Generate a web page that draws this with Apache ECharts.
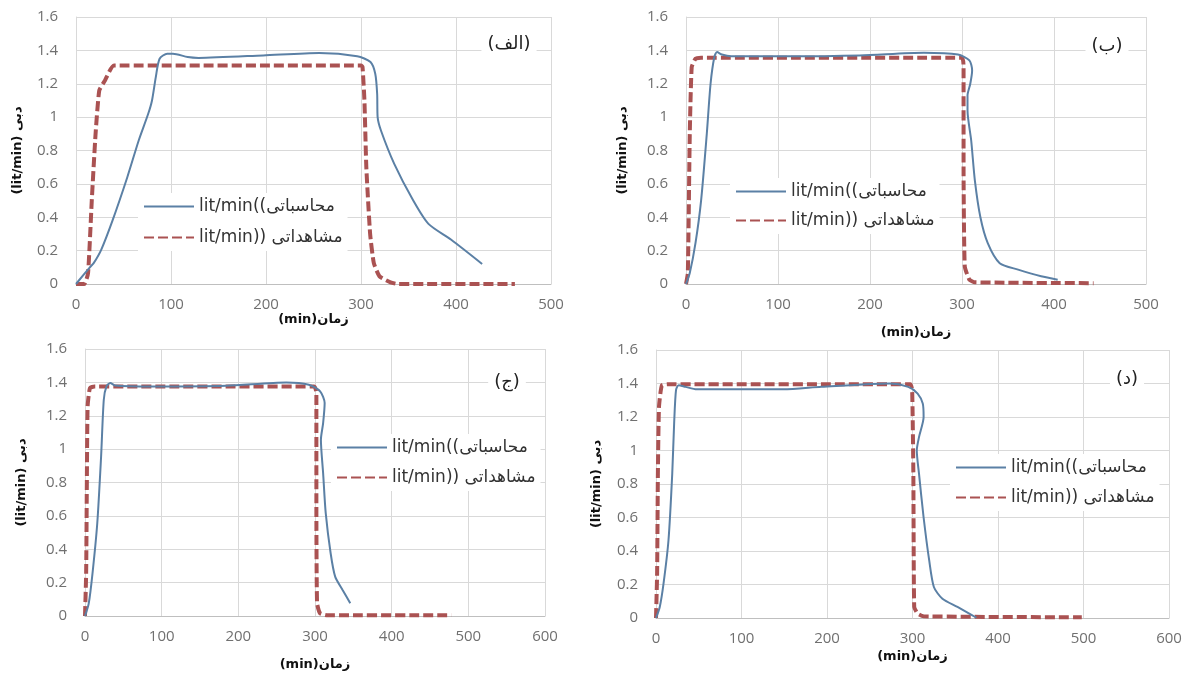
<!DOCTYPE html>
<html>
<head>
<meta charset="utf-8">
<script src="https://cdn.jsdelivr.net/npm/echarts@6/dist/echarts.min.js"></script>
<style>html,body{margin:0;padding:0;background:#fff}#c{width:1187px;height:677px}</style>
</head>
<body>
<div id="c"></div>
<script>
// ---- Data ----
const nameCalc = 'lit/min((محاسباتی';
const nameObs = 'lit/min)) مشاهداتی';
const panelLabels = ['(الف)', '(ب)', '(ج)', '(د)'];
const xTitle = '(min)زمان';
const yTitle = '(lit/min) دبی';
const xMaxA = 500, xMaxB = 500, xMaxC = 600, xMaxD = 600;

const calcA = [[0,0],[14.6,0.1],[18.6,0.125],[26.5,0.205],[38.4,0.38],[54,0.64],[66,0.86],[76,1.02],[80,1.1],[84,1.24],[88,1.35],[96,1.38],[102,1.38],[117.6,1.36],[129,1.355],[197,1.37],[256,1.385],[296,1.365],[310,1.33],[315,1.26],[317,1.14],[317.5,1.0],[321,0.92],[335,0.72],[355,0.5],[371,0.36],[395,0.265],[427.5,0.12]];
const obsA = [[0,0],[8.7,0],[12.7,0.066],[16.6,0.5],[20.6,0.9],[24.5,1.16],[30.5,1.22],[40,1.31],[300,1.31],[301.6,1.3],[303.6,1.1],[305.6,0.7],[309.6,0.3],[313.5,0.125],[319.5,0.046],[331,0.01],[339,0],[462,0]];

const calcB = [[0,0],[4.1,0.066],[10.3,0.245],[16.4,0.5],[22.6,0.9],[26.7,1.2],[30.8,1.36],[33.7,1.39],[39,1.375],[49,1.365],[107,1.365],[189,1.37],[258.6,1.386],[295.6,1.375],[308,1.34],[311,1.28],[309,1.2],[306,1.13],[306,1.04],[310,0.86],[314,0.62],[320,0.4],[328,0.245],[341,0.125],[361,0.086],[386,0.046],[404,0.026]];
const obsB = [[0,0],[2,0.066],[4.1,0.9],[6.2,1.3],[10.3,1.35],[16.4,1.356],[300,1.356],[301.7,1.3],[301.7,0.7],[303,0.106],[308,0.026],[314,0.01],[443,0.005]];

const calcC = [[0,0],[4.9,0.076],[9.8,0.256],[16,0.556],[21,0.956],[24.5,1.296],[28,1.376],[33,1.396],[39,1.382],[86,1.376],[184,1.38],[262.5,1.4],[292,1.386],[306.7,1.346],[312.6,1.276],[310.6,1.156],[307.7,1.056],[310.6,0.856],[314,0.616],[320.4,0.376],[326.3,0.236],[336,0.156],[346,0.076]];
const obsC = [[0,0],[1.5,0.256],[2.5,0.856],[3.4,1.256],[6.4,1.366],[12.3,1.376],[299,1.376],[301.8,1.336],[301.8,0.656],[302.7,0.076],[306.7,0.016],[316.5,0.004],[478,0.004]];

const calcD = [[0,0],[4.4,0.066],[8.8,0.205],[14.6,0.464],[19,0.862],[21.2,1.16],[23.4,1.36],[26.5,1.39],[34.5,1.38],[47.7,1.365],[149,1.365],[193.5,1.38],[273,1.4],[295,1.38],[306,1.34],[312,1.28],[313,1.2],[307.6,1.08],[305,1.0],[307.6,0.862],[313,0.6],[319.5,0.345],[325,0.185],[335,0.115],[352.6,0.066],[370,0.016],[374.7,0.002]];
const obsD = [[0,0],[1.3,0.265],[2.2,0.862],[3.5,1.26],[7,1.39],[16.8,1.396],[297.4,1.396],[299.6,1.36],[301,0.862],[302,0.066],[306,0.026],[313,0.01],[498,0.004]];

// ---- Layout ----
const grids = [
  {left: 76, top: 17, width: 475, height: 267},
  {left: 686, top: 17, width: 460, height: 267},
  {left: 85, top: 349, width: 460, height: 267},
  {left: 656, top: 350, width: 513, height: 268}
];
const xMaxes = [xMaxA, xMaxB, xMaxC, xMaxD];
const yNameGaps = [52, 57, 57, 53];
const xNameGaps = [27, 42, 42, 32];
const labelPos = [[503, 33], [1101, 35], [501, 371], [1121, 368]];
const legendPos = [[138, 193], [730, 178], [331, 434], [950, 454]];
const legendGaps = [14, 12, 13, 13];
const calcs = [calcA, calcB, calcC, calcD];
const obss = [obsA, obsB, obsC, obsD];

const blue = '#5b80a5';
const red = '#aa5252';
const tickFont = 'Open Sans, Liberation Sans, sans-serif';

const option = {
  animation: false,
  backgroundColor: '#fff',
  grid: grids.map(g => Object.assign({containLabel: false}, g)),
  xAxis: grids.map((g, i) => ({
    type: 'value', gridIndex: i, min: 0, max: xMaxes[i], interval: 100,
    name: xTitle, nameLocation: 'middle', nameGap: xNameGaps[i],
    nameTextStyle: {fontWeight: 'bold', fontSize: 13, color: '#111', fontFamily: 'DejaVu Sans, sans-serif'},
    axisLine: {show: true, lineStyle: {color: '#bfbfbf'}},
    axisTick: {show: false},
    axisLabel: {color: '#707070', fontSize: 15, margin: 13, fontFamily: tickFont},
    splitLine: {show: true, lineStyle: {color: '#d9d9d9'}}
  })),
  yAxis: grids.map((g, i) => ({
    type: 'value', gridIndex: i, min: 0, max: 1.6, interval: 0.2,
    name: yTitle, nameLocation: 'middle', nameGap: yNameGaps[i], nameRotate: 90,
    nameTextStyle: {fontWeight: 'bold', fontSize: 13, color: '#111', fontFamily: 'DejaVu Sans, sans-serif'},
    axisLine: {show: true, lineStyle: {color: '#d9d9d9'}},
    axisTick: {show: false},
    axisLabel: {color: '#707070', fontSize: 15, margin: 18, fontFamily: tickFont},
    splitLine: {show: true, lineStyle: {color: '#d9d9d9'}}
  })),
  title: labelPos.map((p, i) => ({
    text: panelLabels[i], left: p[0], top: p[1], textAlign: 'center',
    backgroundColor: '#fff', padding: [2, 6],
    textStyle: {fontSize: 18, fontWeight: 'normal', color: '#222', fontFamily: 'DejaVu Sans, sans-serif'}
  })),
  legend: legendPos.map((p, i) => ({
    orient: 'vertical', left: p[0], top: p[1], padding: [5, 5],
    backgroundColor: '#fff', itemWidth: 50, itemHeight: 20, itemGap: legendGaps[i],
    data: [nameCalc, nameObs], selectedMode: false,
    itemStyle: {opacity: 0, color: 'rgba(0,0,0,0)', borderWidth: 0},
    textStyle: {fontSize: 17, color: '#333', fontFamily: 'DejaVu Sans, sans-serif'}
  })),
  series: []
};

for (let i = 0; i < 4; i++) {
  option.series.push({
    name: nameCalc, type: 'line', xAxisIndex: i, yAxisIndex: i,
    data: calcs[i], symbol: 'none', smooth: 0.25, z: 3,
    lineStyle: {color: blue, width: 2}, itemStyle: {color: blue}
  });
  option.series.push({
    name: nameObs, type: 'line', xAxisIndex: i, yAxisIndex: i,
    data: obss[i], symbol: 'none', smooth: 0.15, z: 2,
    lineStyle: {color: red, width: 4, type: [10, 4]}, itemStyle: {color: red}
  });
}

const chart = echarts.init(document.getElementById('c'), null, {renderer: 'canvas'});
chart.setOption(option);
</script>
</body>
</html>
